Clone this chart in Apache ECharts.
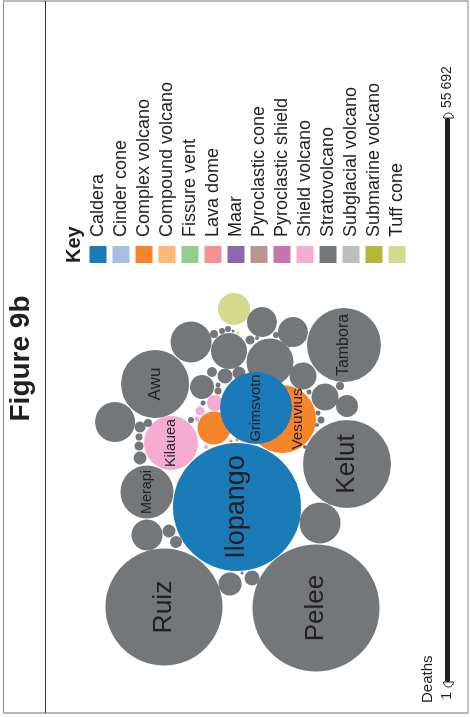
<!DOCTYPE html>
<html>
<head>
<meta charset="utf-8">
<script src="https://cdn.jsdelivr.net/npm/echarts@6/dist/echarts.min.js"></script>
<style>
  html, body { margin: 0; padding: 0; background: #fff; overflow: hidden; }
  #page { position: absolute; left: 0; top: 0; width: 470px; height: 717px; overflow: hidden; }
  /* the figure is printed turned a quarter turn to the left */
  #chart { position: absolute; left: 0; top: 0; width: 717px; height: 470px;
           transform-origin: 0 0; transform: translate(0, 717px) rotate(-90deg); }
</style>
</head>
<body>
<div id="page"><div id="chart"></div></div>
<script>
// volcano types shown in the key
const types = ['Caldera', 'Cinder cone', 'Complex volcano', 'Compound volcano', 'Fissure vent',
    'Lava dome', 'Maar', 'Pyroclastic cone', 'Pyroclastic shield', 'Shield volcano',
    'Stratovolcano', 'Subglacial volcano', 'Submarine volcano', 'Tuff cone'];

// one entry per bubble: name, type, deaths and its place in the packed layout
const names = ['Ilopango', 'Pelee', 'Ruiz', 'Kelut', 'Tambora', 'Grimsvotn', 'Awu', 'Vesuvius', 'Kilauea', 'Merapi',
    '', '', '', '', '', '', '', '', '', '',
    '', '', '', '', '', '', '', '', '', '',
    '', '', '', '', '', '', '', '', '', '',
    '', '', '', '', '', '', '', '', '', '',
    '', '', '', '', '', '', '', '', '', '',
    '', ''];
const volcanoType = ['Caldera', 'Stratovolcano', 'Stratovolcano', 'Stratovolcano', 'Stratovolcano', 'Caldera', 'Stratovolcano', 'Complex volcano', 'Shield volcano', 'Stratovolcano',
    'Stratovolcano', 'Stratovolcano', 'Stratovolcano', 'Stratovolcano', 'Stratovolcano', 'Stratovolcano', 'Stratovolcano', 'Stratovolcano', 'Stratovolcano', 'Stratovolcano',
    'Stratovolcano', 'Stratovolcano', 'Stratovolcano', 'Stratovolcano', 'Stratovolcano', 'Stratovolcano', 'Stratovolcano', 'Stratovolcano', 'Stratovolcano', 'Stratovolcano',
    'Stratovolcano', 'Stratovolcano', 'Stratovolcano', 'Stratovolcano', 'Stratovolcano', 'Stratovolcano', 'Stratovolcano', 'Stratovolcano', 'Stratovolcano', 'Stratovolcano',
    'Stratovolcano', 'Stratovolcano', 'Tuff cone', 'Tuff cone', 'Stratovolcano', 'Stratovolcano', 'Stratovolcano', 'Stratovolcano', 'Stratovolcano', 'Stratovolcano',
    'Stratovolcano', 'Stratovolcano', 'Stratovolcano', 'Stratovolcano', 'Stratovolcano', 'Shield volcano', 'Shield volcano', 'Shield volcano', 'Shield volcano', 'Complex volcano',
    'Complex volcano', 'Complex volcano'];
const deaths = [55692, 54825, 46531, 26325, 18614, 17621, 15718, 15718, 9912, 9548,
    5714, 4406, 3059, 3059, 7509, 2478, 2478, 1645, 5439, 1958,
    5714, 3267, 574, 489, 1798, 765, 31, 411, 218, 167,
    275, 574, 340, 765, 574, 85, 167, 85, 218, 122,
    122, 31, 3481, 31, 275, 54, 122, 31, 218, 85,
    85, 167, 54, 54, 122, 870, 275, 85, 54, 3702,
    31, 31];
const packX = [507, 608, 607, 464, 345, 408, 384, 419, 443, 492,
    342, 351, 322, 332, 362, 376, 397, 406, 422, 387,
    523, 535, 531, 542, 584, 578, 573, 427, 423, 437,
    446, 458, 372, 376, 373, 385, 391, 403, 334, 331,
    329, 331, 309, 333, 340, 338, 335, 346, 386, 392,
    413, 420, 425, 447, 420, 403, 411, 419, 447, 428,
    441, 440];
const packY = [237, 316, 164, 347, 344, 256, 155, 282, 171, 147,
    191, 229, 262, 293, 270, 303, 325, 347, 115, 202,
    320, 147, 169, 176, 230, 252, 242, 140, 148, 139,
    139, 140, 212, 225, 239, 218, 218, 203, 214, 222,
    228, 233, 234, 238, 250, 257, 276, 289, 340, 309,
    318, 321, 317, 305, 191, 215, 200, 197, 206, 214,
    231, 237];

const deathsMin = 1;
const deathsMax = 55692;

// styles
const typeColors = ['#1b7ab8', '#a4bfe3', '#f5852b', '#fbb878', '#93cc8b', '#f49193', '#8a68ae',
    '#b8968e', '#c874b0', '#f4add0', '#74777a', '#bcbec0', '#b3b73a', '#d4d98e'];
const labelSize = { Ilopango: 27, Pelee: 26, Ruiz: 26.5, Kelut: 26, Tambora: 16, Awu: 17,
    Grimsvotn: 14.7, Vesuvius: 15.3, Kilauea: 14.4, Merapi: 14.4 };
const labelOffset = { Vesuvius: [0, 16] };
const MAX_DIAMETER = 128;
const FONT = 'Liberation Sans, Arial, Helvetica, sans-serif';
const INK = '#231f20';

// deaths scale bar geometry (in the unturned chart)
const BAR_START = 35, BAR_END = 599, BAR_MID = 448.5, BAR_THICK = 5, TEXT_GAP = 10, SCALE_FONT = 14;
const fmt = (v) => v.toLocaleString('en-US').replace(/,/g, '\u2009');
const measure = document.createElement('canvas').getContext('2d');
measure.font = SCALE_FONT + 'px ' + FONT;
const lowTextWidth = measure.measureText(fmt(deathsMin)).width;

const chart = echarts.init(document.getElementById('chart'));

const series = types.map((t, ti) => ({
    name: t,
    type: 'scatter',
    z: t === 'Caldera' ? 3 : 2,
    symbol: 'circle',
    symbolSize: (val) => MAX_DIAMETER * Math.sqrt(val[2] / deathsMax),
    itemStyle: { color: typeColors[ti], opacity: 1 },
    emphasis: { disabled: true },
    label: {
        show: true,
        position: 'inside',
        formatter: '{b}',
        color: INK,
        fontFamily: FONT
    },
    data: names.map((n, i) => ({ i, n })).filter(d => volcanoType[d.i] === t).map(d => ({
        name: d.n,
        value: [packX[d.i], packY[d.i], deaths[d.i]],
        label: d.n ? { fontSize: labelSize[d.n] || 14, offset: labelOffset[d.n] || [0, 0] } : { show: false }
    }))
}));

// half-round end caps of the scale bar
const cap = (cx, start, end) => ({
    type: 'sector', z: 10, silent: true,
    shape: { cx, cy: BAR_MID, r0: 0, r: 5, startAngle: start, endAngle: end, clockwise: true },
    style: { fill: '#fff', stroke: INK, lineWidth: 1 }
});

chart.setOption({
    animation: false,
    textStyle: { fontFamily: FONT },
    title: [
        { text: 'Figure 9b', left: 'center', top: 7, padding: 0,
          textStyle: { fontSize: 28, fontWeight: 'bold', color: INK, fontFamily: FONT } },
        { text: 'Key', left: 454, top: 64, padding: 0,
          textStyle: { fontSize: 20, fontWeight: 'bold', color: INK, fontFamily: FONT } },
        { text: 'Deaths', left: 14, top: 420, padding: 0,
          textStyle: { fontSize: 15, fontWeight: 'normal', color: INK, fontFamily: FONT } }
    ],
    graphic: [
        { type: 'rect', shape: { x: 4, y: 3.5, width: 712, height: 464.5 },
          style: { fill: 'none', stroke: '#8a8a8a', lineWidth: 1.2 }, silent: true },
        { type: 'line', shape: { x1: 4, y1: 45.5, x2: 716, y2: 45.5 },
          style: { stroke: '#333', lineWidth: 1.2 }, silent: true },
        cap(BAR_END, -Math.PI / 2, Math.PI / 2),
        cap(BAR_START, Math.PI / 2, Math.PI * 1.5)
    ],
    legend: {
        orient: 'vertical',
        left: 454,
        top: 89,
        padding: 0,
        icon: 'rect',
        itemWidth: 17,
        itemHeight: 17,
        itemGap: 5,
        selectedMode: false,
        textStyle: { fontSize: 18, color: INK, fontFamily: FONT, padding: [0, 0, 0, 4] },
        data: types
    },
    // the deaths scale (sizes are drawn by the series from the same extent)
    visualMap: {
        type: 'continuous',
        seriesIndex: [],
        min: deathsMin,
        max: deathsMax,
        orient: 'horizontal',
        left: BAR_START - TEXT_GAP - lowTextWidth,
        top: BAR_MID - SCALE_FONT / 2 - 1,
        padding: 0,
        itemWidth: BAR_THICK,
        itemHeight: BAR_END - BAR_START,
        text: [fmt(deathsMax), fmt(deathsMin)],
        textGap: TEXT_GAP,
        textStyle: { fontSize: SCALE_FONT, color: INK, fontFamily: FONT },
        calculable: false,
        inRange: { color: [INK, INK] },
        outOfRange: { color: [INK, INK] }
    },
    grid: { left: 0, right: 0, top: 0, bottom: 0 },
    xAxis: { type: 'value', min: 0, max: 717, inverse: true, show: false },
    yAxis: { type: 'value', min: 0, max: 470, inverse: true, show: false },
    series
});
</script>
</body>
</html>
